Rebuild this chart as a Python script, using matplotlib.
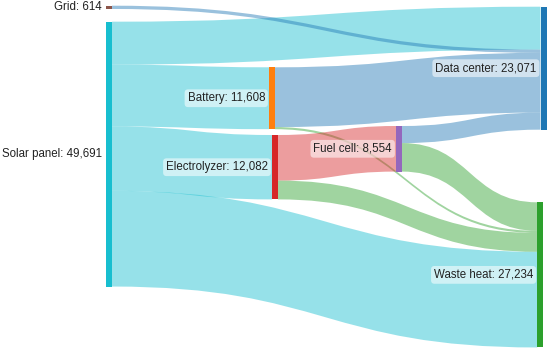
import numpy as np
import matplotlib.pyplot as plt
from matplotlib.path import Path
from matplotlib.patches import PathPatch, Rectangle

# --- data ---
node_names = ["Grid", "Solar panel", "Battery", "Electrolyzer", "Fuel cell",
              "Data center", "Waste heat"]
link_source = ["Solar panel", "Solar panel", "Solar panel", "Solar panel", "Grid",
               "Battery", "Battery", "Electrolyzer", "Electrolyzer",
               "Fuel cell", "Fuel cell"]
link_target = ["Data center", "Battery", "Electrolyzer", "Waste heat", "Data center",
               "Data center", "Waste heat", "Fuel cell", "Waste heat",
               "Data center", "Waste heat"]
link_value = [8049, 11608, 12082, 17952, 614, 11208, 400, 8554, 3528, 3200, 5354]
# stacking order of each link on its target node (top to bottom)
target_rank = [0, 0, 0, 3, 1, 2, 1, 0, 2, 3, 0]

# --- layout (pixels) ---
node_colors = ["#8c564b", "#17becf", "#ff7f0e", "#d62728", "#9467bd",
               "#1f77b4", "#2ca02c"]
node_left = [106, 106, 269, 272, 396, 540.5, 537.3]
node_top = [5.7, 21.7, 67.3, 135, 126, 6.7, 202.3]
link_colors = ["#17becf", "#17becf", "#17becf", "#17becf", "#1f77b4",
               "#1f77b4", "#2ca02c", "#d62728", "#2ca02c", "#1f77b4", "#2ca02c"]
node_w = 6
px_per_unit = 0.00533

W, H = 550, 353
fig = plt.figure(figsize=(W / 100, H / 100), dpi=100)
ax = fig.add_axes([0, 0, 1, 1])
ax.set_xlim(0, W)
ax.set_ylim(H, 0)
ax.axis('off')

idx = {n: i for i, n in enumerate(node_names)}
n_links = len(link_value)

inflow = {n: 0 for n in node_names}
outflow = {n: 0 for n in node_names}
for s, t, v in zip(link_source, link_target, link_value):
    outflow[s] += v
    inflow[t] += v
node_val = {n: max(inflow[n], outflow[n]) for n in node_names}

# offsets of links along the source and target nodes
src_off = [0.0] * n_links
tgt_off = [0.0] * n_links
acc = {n: 0.0 for n in node_names}
for i in range(n_links):
    s = link_source[i]
    src_off[i] = acc[s]
    acc[s] += link_value[i] * px_per_unit
for n in node_names:
    incoming = sorted([i for i in range(n_links) if link_target[i] == n],
                      key=lambda i: target_rank[i])
    a = 0.0
    for i in incoming:
        tgt_off[i] = a
        a += link_value[i] * px_per_unit

for i in range(n_links):
    si, ti = idx[link_source[i]], idx[link_target[i]]
    h = link_value[i] * px_per_unit
    x0 = node_left[si] + node_w
    x1 = node_left[ti]
    xm = (x0 + x1) / 2
    y0 = node_top[si] + src_off[i]
    y1 = node_top[ti] + tgt_off[i]
    verts = [(x0, y0), (xm, y0), (xm, y1), (x1, y1),
             (x1, y1 + h), (xm, y1 + h), (xm, y0 + h), (x0, y0 + h), (x0, y0)]
    codes = [Path.MOVETO, Path.CURVE4, Path.CURVE4, Path.CURVE4,
             Path.LINETO, Path.CURVE4, Path.CURVE4, Path.CURVE4, Path.CLOSEPOLY]
    ax.add_patch(PathPatch(Path(verts, codes), facecolor=link_colors[i],
                           alpha=0.45, edgecolor='none', zorder=1))

for n in node_names:
    i = idx[n]
    h = node_val[n] * px_per_unit
    ax.add_patch(Rectangle((node_left[i], node_top[i]), node_w, h,
                           facecolor=node_colors[i], edgecolor='none', zorder=2))
    ax.text(node_left[i] - 4, node_top[i] + h / 2, f"{n}: {node_val[n]:,}",
            ha='right', va='center', fontsize=8.3, family='Liberation Sans',
            color='#222222', zorder=3,
            bbox=dict(boxstyle='round,pad=0.25,rounding_size=0.3',
                      facecolor='white', alpha=0.55, edgecolor='none'))

fig.savefig('out.png', dpi=100)
